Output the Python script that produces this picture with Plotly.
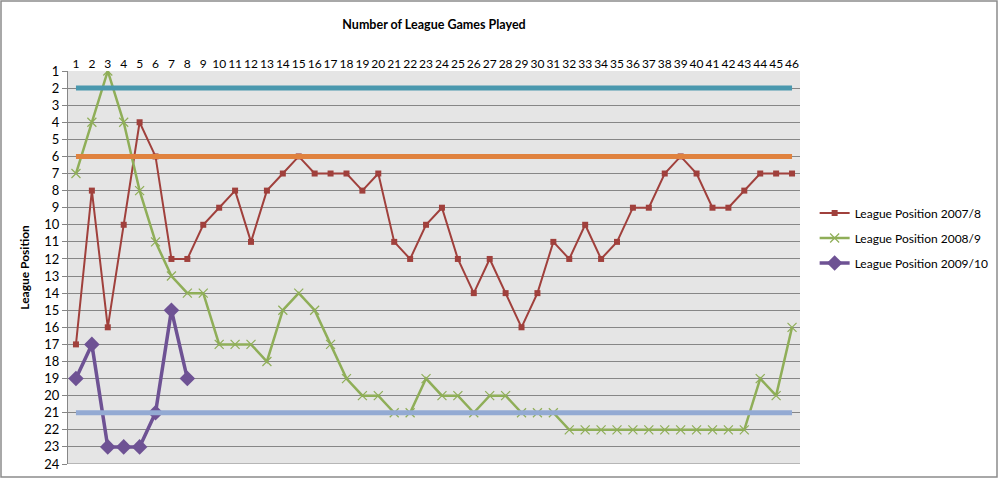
import plotly.graph_objects as go

games = list(range(1, 47))
pos_2007 = [17, 8, 16, 10, 4, 6, 12, 12, 10, 9, 8, 11, 8, 7, 6, 7, 7, 7, 8, 7,
            11, 12, 10, 9, 12, 14, 12, 14, 16, 14, 11, 12, 10, 12, 11, 9, 9, 7, 6, 7,
            9, 9, 8, 7, 7, 7]
pos_2008 = [7, 4, 1, 4, 8, 11, 13, 14, 14, 17, 17, 17, 18, 15, 14, 15, 17, 19, 20, 20,
            21, 21, 19, 20, 20, 21, 20, 20, 21, 21, 21, 22, 22, 22, 22, 22, 22, 22, 22, 22,
            22, 22, 22, 19, 20, 16]
games_2009 = [1, 2, 3, 4, 5, 6, 7, 8]
pos_2009 = [19, 17, 23, 23, 23, 21, 15, 19]
ref_levels = [2, 6, 21]
ref_colors = ["#4A98AE", "#E0823E", "#93AAD3"]
y_ticks = list(range(1, 25))

FONT = "Lato, 'Open Sans', sans-serif"

fig = go.Figure()
fig.add_trace(go.Scatter(x=games, y=pos_2007, mode="lines+markers", name="League Position 2007/8",
                         legendgroup="a",
                         line=dict(color="#A0403C", width=2),
                         marker=dict(symbol="square", size=6, color="#A0403C")))
fig.add_trace(go.Scatter(x=games, y=pos_2008, mode="lines+markers", name="League Position 2008/9",
                         legendgroup="b",
                         line=dict(color="#8FAE58", width=2.5),
                         marker=dict(symbol="x-thin", size=9, color="#8FAE58",
                                     line=dict(color="#8FAE58", width=1.2))))
fig.add_trace(go.Scatter(x=games_2009, y=pos_2009, mode="lines+markers", name="League Position 2009/10",
                         legendgroup="c",
                         line=dict(color="#6E5294", width=3.5),
                         marker=dict(symbol="diamond", size=12, color="#6E5294")))
for lvl, col in zip(ref_levels, ref_colors):
    fig.add_trace(go.Scatter(x=games, y=[lvl] * len(games), mode="lines", showlegend=False,
                             line=dict(color=col, width=5), hoverinfo="skip"))

fig.update_layout(
    width=998, height=480,
    margin=dict(l=68, r=198, t=71, b=16, autoexpand=False),
    paper_bgcolor="white", plot_bgcolor="#E5E5E5",
    font=dict(family=FONT, size=12, color="black"),
    title=dict(text="<b>Number of League Games Played</b>", x=(68 + 366) / 998, xanchor="center",
               y=1 - 25 / 480, yanchor="middle", font=dict(size=12.5, family=FONT)),
    legend=dict(x=1.02, y=0.575, xanchor="left", yanchor="middle", font=dict(size=12, family=FONT),
                bgcolor="rgba(0,0,0,0)", traceorder="grouped", tracegroupgap=6, itemwidth=30),
    xaxis=dict(side="top", range=[0.5, 46.5], tickmode="array", tickvals=games,
               ticktext=[str(g) for g in games], showgrid=False, zeroline=False,
               showline=False, ticks="", tickangle=0, automargin=False,
               tickfont=dict(size=12, family=FONT)),
    yaxis=dict(range=[24, 1], tickmode="array", tickvals=y_ticks,
               ticktext=[str(v) for v in y_ticks], showgrid=True, gridcolor="#868686", gridwidth=1,
               zeroline=False, showline=True, linecolor="#868686", linewidth=1,
               ticks="outside", ticklen=5, tickcolor="#868686", automargin=False,
               tickfont=dict(size=13, family=FONT),
               title=dict(text="<b>League Position</b>", font=dict(size=12, family=FONT), standoff=12)),
    showlegend=True,
)
fig.add_shape(type="line", xref="paper", yref="y", x0=0, x1=1, y0=24, y1=24,
              line=dict(color="#868686", width=1))
fig.add_shape(type="rect", xref="paper", yref="paper",
              x0=-67 / 732, x1=(997 - 68) / 732, y0=-13 / 393, y1=1 + 70 / 393,
              line=dict(color="#8C8C8C", width=1.5), fillcolor="rgba(0,0,0,0)", layer="below")
fig.write_html("out.html", config={"displayModeBar": False},
               post_script="document.body.style.margin='0';document.body.style.overflow='hidden';")
